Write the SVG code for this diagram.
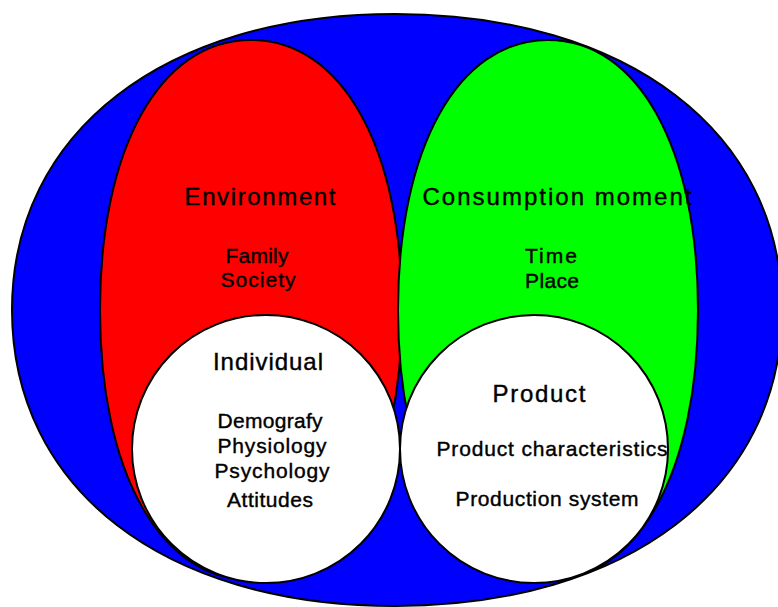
<svg xmlns="http://www.w3.org/2000/svg" width="778" height="607" viewBox="0 0 778 607">
  <style>
    .shape { stroke: #000; stroke-width: 2; }
    .t { font-family: "Liberation Sans", Arial, sans-serif; fill: #000; stroke: #000; stroke-width: 0.4; text-anchor: middle; }
    .big { font-size: 24px; }
    .small { font-size: 21px; }
  </style>
  <rect x="0" y="0" width="778" height="607" fill="#fff"/>
  <g id="outer">
    <path class="shape" fill="#0000ff" d="M 12 310 C 12 132, 165 14, 395 14 C 627 14, 782 132, 782 310 C 782 488, 627 606, 395 606 C 163 606, 12 488, 12 310 Z"/>
  </g>
  <g id="environment">
    <path class="shape" fill="#ff0000" d="M 100 310 C 100 148, 160 40, 251 40 C 342 40, 402 148, 402 310 C 402 472, 342 580, 251 580 C 160 580, 100 472, 100 310 Z"/>
    <text class="t big" x="260" y="205" textLength="151" lengthAdjust="spacing">Environment</text>
    <text class="t small" x="257" y="263" textLength="63" lengthAdjust="spacing">Family</text>
    <text class="t small" x="258" y="287" textLength="75" lengthAdjust="spacing">Society</text>
  </g>
  <g id="consumption">
    <path class="shape" fill="#00ff00" d="M 398 310 C 398 148, 458 40, 548 40 C 638 40, 698 148, 698 310 C 698 472, 638 580, 548 580 C 458 580, 398 472, 398 310 Z"/>
    <text class="t big" x="557" y="205" textLength="269" lengthAdjust="spacing">Consumption moment</text>
    <text class="t small" x="551" y="263" textLength="52" lengthAdjust="spacing">Time</text>
    <text class="t small" x="552" y="288" textLength="54" lengthAdjust="spacing">Place</text>
  </g>
  <g id="individual">
    <circle class="shape" fill="#fff" cx="266" cy="449" r="134"/>
    <text class="t big" x="268" y="370" textLength="110" lengthAdjust="spacing">Individual</text>
    <text class="t small" x="270" y="428" textLength="105" lengthAdjust="spacing">Demografy</text>
    <text class="t small" x="272" y="453" textLength="109" lengthAdjust="spacing">Physiology</text>
    <text class="t small" x="272" y="478" textLength="115" lengthAdjust="spacing">Psychology</text>
    <text class="t small" x="270" y="507" textLength="86" lengthAdjust="spacing">Attitudes</text>
  </g>
  <g id="product">
    <circle class="shape" fill="#fff" cx="534" cy="449" r="134"/>
    <text class="t big" x="539" y="402" textLength="93" lengthAdjust="spacing">Product</text>
    <text class="t small" x="552" y="456" textLength="231" lengthAdjust="spacing">Product characteristics</text>
    <text class="t small" x="547" y="506" textLength="183" lengthAdjust="spacing">Production system</text>
  </g>
  <g id="connectors"></g>
</svg>
